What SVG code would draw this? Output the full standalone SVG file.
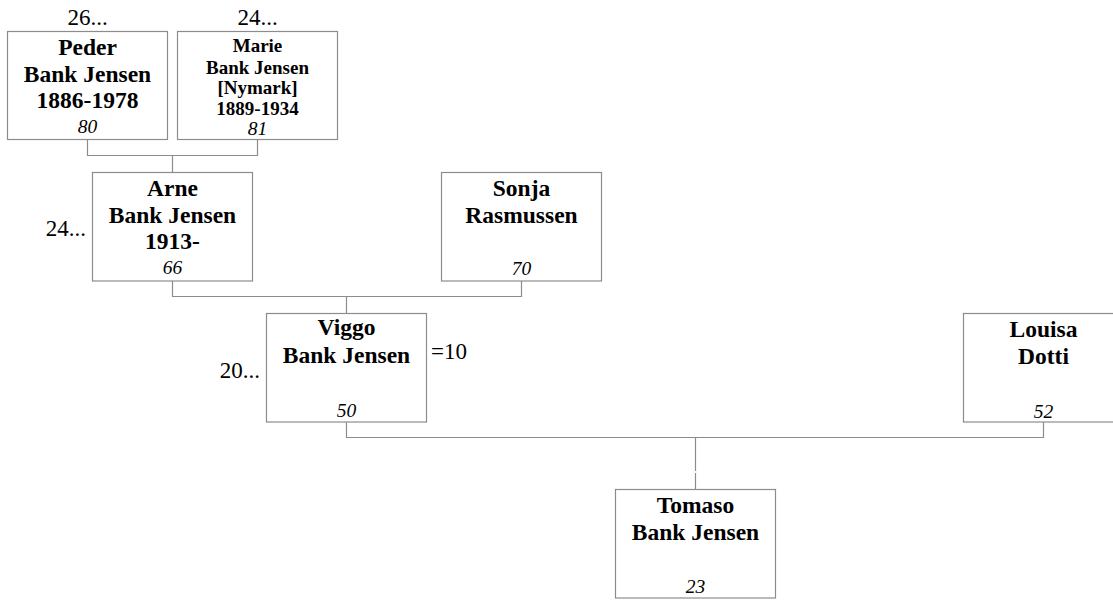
<svg xmlns="http://www.w3.org/2000/svg" width="1113" height="601" viewBox="0 0 1113 601">
<style>
.box{fill:#fff;stroke:#8c8c8c;stroke-width:1.2}
.con{fill:none;stroke:#8c8c8c;stroke-width:1.2}
.nm{font-family:"Liberation Serif","Times New Roman",serif;font-weight:bold;font-size:23.5px;fill:#000;text-anchor:middle}
.sm{font-family:"Liberation Serif","Times New Roman",serif;font-weight:bold;font-size:19px;fill:#000;text-anchor:middle}
.id{font-family:"Liberation Serif","Times New Roman",serif;font-style:italic;font-size:19.5px;fill:#000;text-anchor:middle}
.lb{font-family:"Liberation Serif","Times New Roman",serif;font-size:23px;fill:#000}
</style>
<rect width="1113" height="601" fill="#fff"/>
<g id="connectors">
<path class="con" d="M87.5 139.5V155.5H257.5V139.5M172.5 155.5V172.5"/>
<path class="con" d="M172.5 281V296.5H521.5V281M346.5 296.5V313.5"/>
<path class="con" d="M346.5 422V437.5H1043.5V422M695.5 437.5V471M695.5 473V489.5"/>
</g>
<g id="peder">
<rect class="box" x="7.5" y="31.5" width="160" height="108"/>
<text class="nm" x="87.5" y="55">Peder</text>
<text class="nm" x="87.5" y="82">Bank Jensen</text>
<text class="nm" x="87.5" y="108">1886-1978</text>
<text class="id" x="87.5" y="133">80</text>
<text class="lb" x="87.5" y="25" text-anchor="middle">26...</text>
</g>
<g id="marie">
<rect class="box" x="177.5" y="31.5" width="160" height="108"/>
<text class="sm" x="257.5" y="52">Marie</text>
<text class="sm" x="257.5" y="74">Bank Jensen</text>
<text class="sm" x="257.5" y="94">[Nymark]</text>
<text class="sm" x="257.5" y="115">1889-1934</text>
<text class="id" x="257.5" y="135">81</text>
<text class="lb" x="257.5" y="25" text-anchor="middle">24...</text>
</g>
<g id="arne">
<rect class="box" x="92.5" y="172.5" width="160" height="108.5"/>
<text class="nm" x="172.5" y="196">Arne</text>
<text class="nm" x="172.5" y="223">Bank Jensen</text>
<text class="nm" x="172.5" y="249">1913-</text>
<text class="id" x="172.5" y="274">66</text>
<text class="lb" x="86" y="236" text-anchor="end">24...</text>
</g>
<g id="sonja">
<rect class="box" x="441.5" y="172.5" width="160" height="108.5"/>
<text class="nm" x="521.5" y="196">Sonja</text>
<text class="nm" x="521.5" y="223">Rasmussen</text>
<text class="id" x="521.5" y="275">70</text>
</g>
<g id="viggo">
<rect class="box" x="266.5" y="313.5" width="160" height="108.5"/>
<text class="nm" x="346.5" y="335">Viggo</text>
<text class="nm" x="346.5" y="363">Bank Jensen</text>
<text class="id" x="346.5" y="417">50</text>
<text class="lb" x="260" y="378" text-anchor="end">20...</text>
<text class="lb" x="431" y="359">=10</text>
</g>
<g id="louisa">
<rect class="box" x="963.5" y="313.5" width="160" height="108.5"/>
<text class="nm" x="1043.5" y="337">Louisa</text>
<text class="nm" x="1043.5" y="364">Dotti</text>
<text class="id" x="1043.5" y="418">52</text>
</g>
<g id="tomaso">
<rect class="box" x="615.5" y="489.5" width="160" height="108.5"/>
<text class="nm" x="695.5" y="513">Tomaso</text>
<text class="nm" x="695.5" y="540">Bank Jensen</text>
<text class="id" x="695.5" y="593">23</text>
</g>
</svg>
